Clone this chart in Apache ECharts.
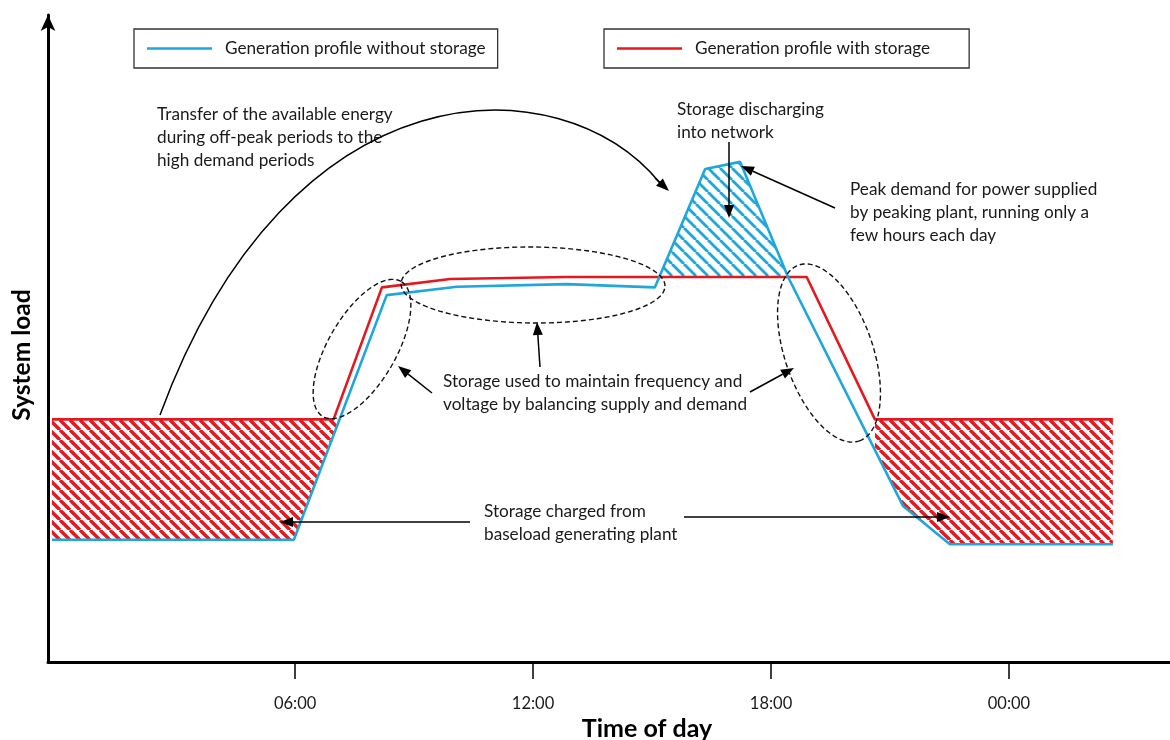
<!DOCTYPE html>
<html>
<head>
<meta charset="utf-8">
<script src="https://cdn.jsdelivr.net/npm/echarts@6/dist/echarts.min.js"></script>
<style>html,body{margin:0;padding:0;background:#fff}#c{width:1170px;height:740px}</style>
</head>
<body>
<div id="c"></div>
<script>
// ---- data (hour of day, relative system load) ----
const tickHours = [6, 12, 18, 24];
const tickLabels = ['06:00', '12:00', '18:00', '00:00'];
const seriesNames = ['Generation profile without storage', 'Generation profile with storage'];
const withoutStorage = [[-0.13,18.9],[5.97,18.9],[8.31,56.7],[10.08,58.0],[12.85,58.4],[15.07,57.9],[16.34,76.2],[17.22,77.3],[18.43,59.5],[21.33,24.1],[22.51,18.2],[26.62,18.2]];
const withStorage = [[-0.13,37.5],[6.97,37.5],[8.19,57.9],[9.91,59.2],[12.85,59.5],[18.90,59.5],[20.62,37.5],[26.62,37.5]];
const chargeLeft = [[-0.13,37.5],[7.1,37.5],[5.97,18.9],[-0.13,18.9]];
const chargeRight = [[20.62,37.5],[26.62,37.5],[26.62,18.2],[22.51,18.2],[21.33,24.1],[20.62,32.8]];
const discharge = [[15.18,59.5],[16.34,76.2],[17.22,77.3],[18.43,59.5]];

const BLUE = '#1ea7dd', RED = '#e3191f', FONT = 'Lato', FS = 17.2;

function stripes(color, period, width) {
  const c = document.createElement('canvas');
  c.width = c.height = period;
  const g = c.getContext('2d');
  g.strokeStyle = color; g.lineWidth = width;
  for (let k = -1; k <= 1; k++) {
    g.beginPath(); g.moveTo(k * period, 0); g.lineTo(k * period + period, period); g.stroke();
  }
  return c;
}
const redHatch = { image: stripes(RED, 10, 3.4), repeat: 'repeat' };
const blueHatch = { image: stripes(BLUE, 12, 2.8), repeat: 'repeat' };

function regionSeries(pts, fill) {
  return {
    type: 'custom', coordinateSystem: 'cartesian2d', z: 1, silent: true,
    data: pts, encode: { x: 0, y: 1 },
    renderItem: function (params, api) {
      if (params.dataIndex !== 0) return null;
      return { type: 'polygon', shape: { points: pts.map(p => api.coord(p)) }, style: { fill: fill, stroke: null } };
    }
  };
}

function ellipsePts(cx, cy, a, b, deg) {
  const t = deg * Math.PI / 180, out = [];
  for (let i = 0; i < 120; i++) {
    const f = i / 120 * Math.PI * 2;
    const ex = a * Math.cos(f), ey = b * Math.sin(f);
    out.push([cx + ex * Math.cos(t) - ey * Math.sin(t), cy - (ex * Math.sin(t) + ey * Math.cos(t))]);
  }
  return out;
}
function dashedEllipse(cx, cy, a, b, deg) {
  return { type: 'polygon', shape: { points: ellipsePts(cx, cy, a, b, deg) },
    style: { fill: null, stroke: '#111', lineWidth: 1.4, lineDash: [5, 3] }, z: 10 };
}
function arrow(x1, y1, x2, y2) {
  const ang = Math.atan2(y2 - y1, x2 - x1), L = 13, W = 5;
  const bx = x2 - L * Math.cos(ang), by = y2 - L * Math.sin(ang);
  const px = -Math.sin(ang) * W, py = Math.cos(ang) * W;
  return [
    { type: 'line', shape: { x1: x1, y1: y1, x2: bx, y2: by }, style: { stroke: '#000', lineWidth: 1.5 }, z: 10 },
    { type: 'polygon', shape: { points: [[x2, y2], [bx + px, by + py], [bx - px, by - py]] }, style: { fill: '#000' }, z: 10 }
  ];
}
function label(x, yTop, text) {
  return { type: 'text', x: x, y: yTop, z: 10,
    style: { text: text, fontFamily: FONT, fontSize: FS, lineHeight: 23, fill: '#1a1a1a', verticalAlign: 'top', align: 'left' } };
}

const chart = echarts.init(document.getElementById('c'), null, { renderer: 'canvas' });

const graphics = [
  label(157, 103, 'Transfer of the available energy\nduring off-peak periods to the\nhigh demand periods'),
  label(677, 98, 'Storage discharging\ninto network'),
  label(850, 178, 'Peak demand for power supplied\nby peaking plant, running only a\nfew hours each day'),
  label(443, 370, 'Storage used to maintain frequency and\nvoltage by balancing supply and demand'),
  label(484, 500, 'Storage charged from\nbaseload generating plant'),
  { type: 'bezierCurve', shape: { x1: 160, y1: 415, cpx1: 290, cpy1: 62, cpx2: 560, cpy2: 62, x2: 660, y2: 183 },
    style: { stroke: '#000', lineWidth: 1.5, fill: null }, z: 10 },
  ...arrow(655, 178, 669, 191),
  ...arrow(729, 142, 729, 218),
  ...arrow(835, 208, 741, 166),
  ...arrow(432, 393, 398, 366),
  ...arrow(540, 367, 537, 322),
  ...arrow(750, 392, 794, 368),
  ...arrow(470, 522, 280, 522),
  ...arrow(684, 517, 950, 517),
  dashedEllipse(362, 349, 78, 34, 60),
  dashedEllipse(533, 285, 132, 38, -0.5),
  dashedEllipse(829, 353, 93, 44, -71)
];

chart.setOption({
  animation: false,
  grid: { left: 48, right: 0, top: 15, bottom: 78, containLabel: false, outerBoundsMode: 'none' },
  legend: [
    { data: [seriesNames[0]], left: 134, top: 29, orient: 'horizontal', borderColor: '#333', borderWidth: 1.3,
      padding: [11, 12, 11, 13], icon: 'rect', itemWidth: 65, itemHeight: 2.6, itemGap: 10, selectedMode: false,
      textStyle: { fontFamily: FONT, fontSize: FS, color: '#1a1a1a', padding: [0, 0, 0, 8] } },
    { data: [seriesNames[1]], left: 604, top: 29, orient: 'horizontal', borderColor: '#333', borderWidth: 1.3,
      padding: [11, 39, 11, 13], icon: 'rect', itemWidth: 65, itemHeight: 2.6, itemGap: 10, selectedMode: false,
      textStyle: { fontFamily: FONT, fontSize: FS, color: '#1a1a1a', padding: [0, 0, 0, 8] } }
  ],
  xAxis: {
    type: 'value', min: -0.23, max: 28.06,
    name: 'Time of day', nameLocation: 'middle', nameGap: 53,
    nameTextStyle: { fontFamily: FONT, fontSize: 25, fontWeight: 'bold', color: '#000', padding: [0, 0, 0, 76] },
    axisLine: { show: true, onZero: false, lineStyle: { color: '#000', width: 3 } },
    axisTick: { show: true, customValues: tickHours, length: 17, lineStyle: { color: '#000', width: 1.5 } },
    axisLabel: { show: true, customValues: tickHours, margin: 33, fontFamily: FONT, fontSize: 16.5, color: '#1a1a1a',
      formatter: v => tickLabels[tickHours.indexOf(v)] },
    splitLine: { show: false }
  },
  yAxis: {
    type: 'value', min: 0, max: 100,
    name: 'System load', nameLocation: 'middle', nameGap: 13, nameRotate: 90,
    nameTextStyle: { fontFamily: FONT, fontSize: 24.5, fontWeight: 'bold', color: '#000', padding: [0, 33, 0, 0] },
    axisLine: { show: true, onZero: false, symbol: ['none', 'arrow'], symbolSize: [11, 16], lineStyle: { color: '#000', width: 3 } },
    axisTick: { show: false }, axisLabel: { show: false }, splitLine: { show: false }
  },
  series: [
    regionSeries(chargeLeft, redHatch),
    regionSeries(chargeRight, redHatch),
    regionSeries(discharge, blueHatch),
    { name: seriesNames[0], type: 'line', data: withoutStorage, symbol: 'none', z: 5,
      lineStyle: { color: BLUE, width: 2.6 }, itemStyle: { color: BLUE } },
    { name: seriesNames[1], type: 'line', data: withStorage, symbol: 'none', z: 4,
      lineStyle: { color: RED, width: 2.6 }, itemStyle: { color: RED } }
  ],
  graphic: graphics
});
</script>
</body>
</html>
